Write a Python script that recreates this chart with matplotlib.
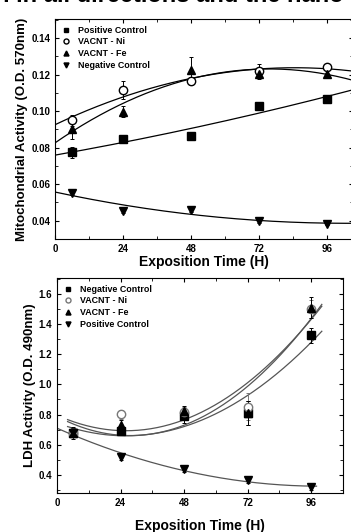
import numpy as np
import matplotlib.pyplot as plt
from matplotlib.ticker import MultipleLocator

plt.rcParams['font.family'] = ['Liberation Sans', 'DejaVu Sans']

hours = [6, 24, 48, 72, 96]

# top panel: mitochondrial activity (O.D. 570nm)
mito_labels = ['Positive Control', 'VACNT - Ni', 'VACNT - Fe', 'Negative Control']
mito_pos = [0.0774, 0.0847, 0.0862, 0.1031, 0.1068]
mito_pos_err = [0.003, 0.001, 0.001, 0.001, 0.001]
mito_ni = [0.0950, 0.1115, 0.1165, 0.1220, 0.1240]
mito_ni_err = [0.003, 0.005, 0.002, 0.004, 0.001]
mito_fe = [0.0905, 0.0998, 0.1227, 0.1205, 0.1206]
mito_fe_err = [0.006, 0.003, 0.007, 0.003, 0.002]
mito_neg = [0.0552, 0.0455, 0.0456, 0.0400, 0.0384]
mito_neg_err = [0.001, 0.001, 0.001, 0.001, 0.001]

# bottom panel: LDH activity (O.D. 490nm)
ldh_labels = ['Negative Control', 'VACNT - Ni', 'VACNT - Fe', 'Positive Control']
ldh_neg = [0.676, 0.694, 0.791, 0.809, 1.326]
ldh_neg_err = [0.04, 0.03, 0.05, 0.08, 0.05]
ldh_ni = [0.680, 0.802, 0.820, 0.853, 1.500]
ldh_ni_err = [0.03, 0.03, 0.03, 0.09, 0.06]
ldh_fe = [0.680, 0.731, 0.826, 0.809, 1.509]
ldh_fe_err = [0.03, 0.03, 0.03, 0.08, 0.07]
ldh_pos = [0.680, 0.517, 0.437, 0.367, 0.318]
ldh_pos_err = [0.02, 0.02, 0.02, 0.02, 0.02]

markers = ['s', 'o', '^', 'v']


def fit_line(ax, x, y, x0, x1, color):
    c = np.polyfit(x, y, 2)
    xx = np.linspace(x0, x1, 200)
    ax.plot(xx, np.polyval(c, xx), color=color, lw=0.9, zorder=1)


def points(ax, ys, errs, labels, colors):
    handles = []
    for y, e, m, lab, col in zip(ys, errs, markers, labels, colors):
        mfc = 'white' if m == 'o' else col
        c = ax.errorbar(hours, y, yerr=e, marker=m, ms=6, mfc=mfc, mec=col, color=col,
                        capsize=1.5, elinewidth=0.7, capthick=0.7, ls='none', zorder=3)
        handles.append(c[0])
    ax.legend(handles, labels, loc='upper left', frameon=False,
              handlelength=1, markerscale=0.6, labelspacing=0.3, borderaxespad=0.35,
              prop={'weight': 'bold', 'size': 6.4})


def style(ax, pad):
    ax.xaxis.set_major_locator(MultipleLocator(24))
    ax.xaxis.set_minor_locator(MultipleLocator(12))
    ax.tick_params(which='both', direction='in', top=True, right=True, labelsize=7)
    ax.tick_params(which='major', length=3)
    ax.tick_params(which='minor', length=2)
    for lab in ax.get_xticklabels() + ax.get_yticklabels():
        lab.set_fontweight('bold')
    ax.set_xlabel('Exposition Time (H)', fontsize=10, fontweight='bold', labelpad=pad)


fig = plt.figure(figsize=(3.51, 5.32), dpi=100)

# caption line from the page above, cut by the crop
fig.text(-0.015, 1 - 2 / 532, 'n in all directions and the nano', fontsize=17,
         fontweight='bold', va='baseline', ha='left')

ax1 = fig.add_axes([0.1567, 0.5508, 0.849, 0.4135])
points(ax1, [mito_pos, mito_ni, mito_fe, mito_neg],
       [mito_pos_err, mito_ni_err, mito_fe_err, mito_neg_err],
       mito_labels, ['black'] * 4)
for y in [mito_pos, mito_ni, mito_fe, mito_neg]:
    fit_line(ax1, hours, y, 0, 106, 'black')
ax1.set_xlim(0, 105)
ax1.set_ylim(0.03, 0.1505)
ax1.yaxis.set_major_locator(MultipleLocator(0.02))
ax1.yaxis.set_minor_locator(MultipleLocator(0.01))
ax1.set_ylabel('Mitochondrial Activity (O.D. 570nm)', fontsize=9.5, fontweight='bold', labelpad=2)
style(ax1, 1)

ax2 = fig.add_axes([0.1624, 0.0733, 0.8148, 0.4041])
points(ax2, [ldh_neg, ldh_ni, ldh_fe, ldh_pos],
       [ldh_neg_err, ldh_ni_err, ldh_fe_err, ldh_pos_err],
       ldh_labels, ['black', '#777777', 'black', 'black'])
for y in [ldh_neg, ldh_ni, ldh_fe]:
    fit_line(ax2, hours, y, 4, 100, '#555555')
fit_line(ax2, hours, ldh_pos, 0, 98, '#555555')
ax2.set_xlim(0, 108)
ax2.set_ylim(0.28, 1.705)
ax2.yaxis.set_major_locator(MultipleLocator(0.2))
ax2.yaxis.set_minor_locator(MultipleLocator(0.1))
ax2.set_ylabel('LDH Activity (O.D. 490nm)', fontsize=9.5, fontweight='bold', labelpad=2)
style(ax2, 8)

plt.savefig('out.png', dpi=100)
